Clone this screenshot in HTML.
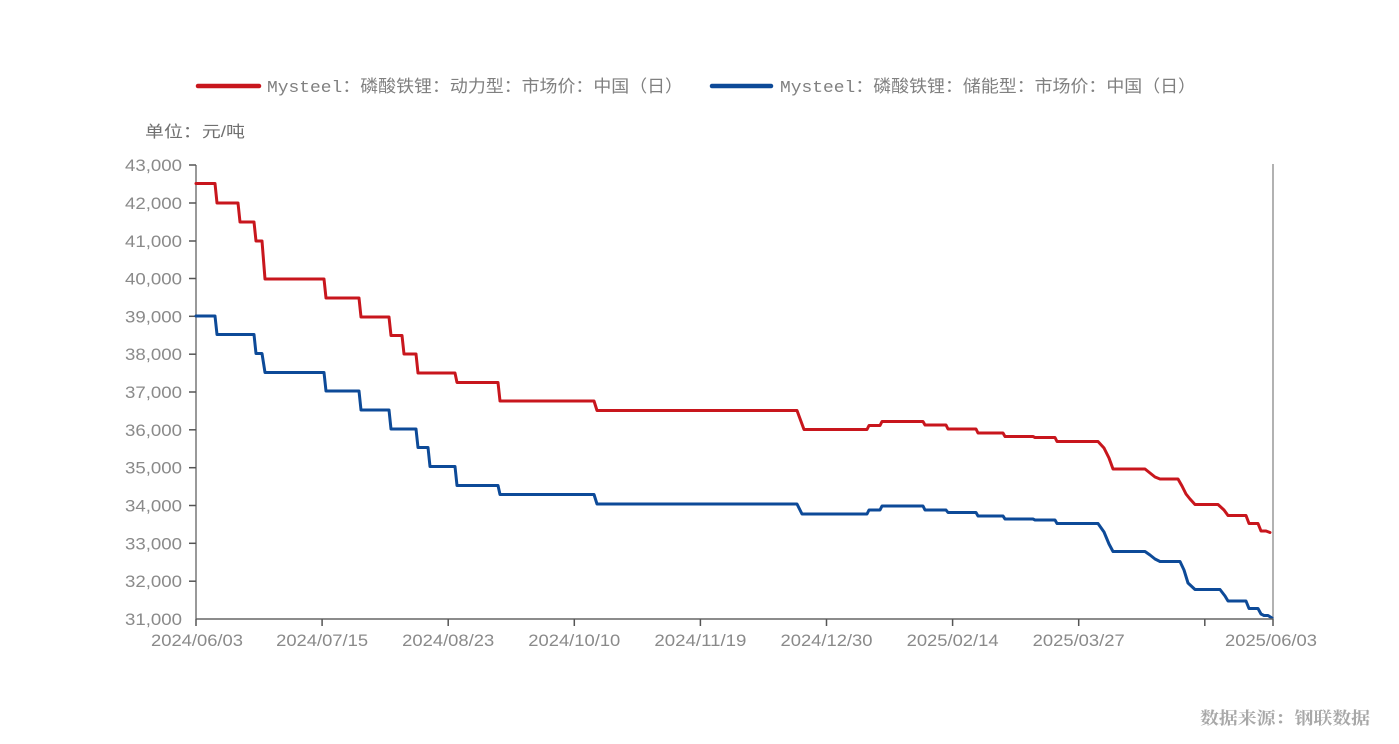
<!DOCTYPE html>
<html>
<head>
<meta charset="utf-8">
<style>
  html,body{margin:0;padding:0;background:#fff;}
  svg{display:block;}
  .lab{font-family:"Liberation Sans","Noto Sans CJK SC",sans-serif;font-size:16.5px;fill:#8a8a8a;}
  .leg{font-family:"Liberation Mono","Noto Sans CJK SC",monospace;font-size:17px;fill:#808080;}
  .unit{font-family:"Liberation Sans","Noto Sans CJK SC",sans-serif;font-size:16px;fill:#707070;}
  .src{font-family:"Liberation Serif","Noto Serif CJK SC",serif;font-size:17px;fill:#a8a8a8;font-weight:bold;}
</style>
</head>
<body>
<svg width="1399" height="744" viewBox="0 0 1399 744" xmlns="http://www.w3.org/2000/svg">
  <rect width="1399" height="744" fill="#fff"/>

  <!-- Legend -->
  <line x1="198" y1="86" x2="259" y2="86" stroke="#C8161D" stroke-width="4.5" stroke-linecap="round"/>
  <text class="leg" x="267" y="92" textLength="416" lengthAdjust="spacingAndGlyphs">Mysteel：磷酸铁锂：动力型：市场价：中国（日）</text>
  <line x1="712" y1="86" x2="771" y2="86" stroke="#0D4A98" stroke-width="4.5" stroke-linecap="round"/>
  <text class="leg" x="780" y="92" textLength="416" lengthAdjust="spacingAndGlyphs">Mysteel：磷酸铁锂：储能型：市场价：中国（日）</text>

  <!-- Unit -->
  <text class="unit" x="145" y="137" textLength="100" lengthAdjust="spacingAndGlyphs">单位：元/吨</text>

  <!-- Y axis -->
  <line x1="196" y1="165" x2="196" y2="619" stroke="#999" stroke-width="2"/>
  <line x1="1273" y1="164" x2="1273" y2="619" stroke="#999" stroke-width="1.5"/>
  <g stroke="#555" stroke-width="1.5">
    <line x1="189" y1="165" x2="196" y2="165"/>
    <line x1="189" y1="203" x2="196" y2="203"/>
    <line x1="189" y1="241" x2="196" y2="241"/>
    <line x1="189" y1="278.5" x2="196" y2="278.5"/>
    <line x1="189" y1="316.3" x2="196" y2="316.3"/>
    <line x1="189" y1="354.2" x2="196" y2="354.2"/>
    <line x1="189" y1="392" x2="196" y2="392"/>
    <line x1="189" y1="429.8" x2="196" y2="429.8"/>
    <line x1="189" y1="467.7" x2="196" y2="467.7"/>
    <line x1="189" y1="505.5" x2="196" y2="505.5"/>
    <line x1="189" y1="543.3" x2="196" y2="543.3"/>
    <line x1="189" y1="581.2" x2="196" y2="581.2"/>
  </g>
  <g class="lab" text-anchor="end">
    <text x="182" y="171" textLength="57" lengthAdjust="spacingAndGlyphs">43,000</text>
    <text x="182" y="209" textLength="57" lengthAdjust="spacingAndGlyphs">42,000</text>
    <text x="182" y="247" textLength="57" lengthAdjust="spacingAndGlyphs">41,000</text>
    <text x="182" y="284.5" textLength="57" lengthAdjust="spacingAndGlyphs">40,000</text>
    <text x="182" y="322.3" textLength="57" lengthAdjust="spacingAndGlyphs">39,000</text>
    <text x="182" y="360.2" textLength="57" lengthAdjust="spacingAndGlyphs">38,000</text>
    <text x="182" y="398" textLength="57" lengthAdjust="spacingAndGlyphs">37,000</text>
    <text x="182" y="435.8" textLength="57" lengthAdjust="spacingAndGlyphs">36,000</text>
    <text x="182" y="473.7" textLength="57" lengthAdjust="spacingAndGlyphs">35,000</text>
    <text x="182" y="511.5" textLength="57" lengthAdjust="spacingAndGlyphs">34,000</text>
    <text x="182" y="549.3" textLength="57" lengthAdjust="spacingAndGlyphs">33,000</text>
    <text x="182" y="587.2" textLength="57" lengthAdjust="spacingAndGlyphs">32,000</text>
    <text x="182" y="625" textLength="57" lengthAdjust="spacingAndGlyphs">31,000</text>
  </g>

  <!-- Series -->
  <path fill="none" stroke="#C8161D" stroke-width="3" stroke-linejoin="round" stroke-linecap="round"
    d="M196,183.5 H215 L217,203 H238 L240,222 H254 L256,241 H262 L265,279 H324 L326,298 H359 L361,317 H389 L391,335.5 H402 L404,354 H416 L418,373 H455 L457,382.5 H498 L500,401 H594 L597,410.5 H797 L804,429.5 H867 L869,425.5 H880 L882,421.5 H923 L925,425 H946 L948,429 H976 L978,433 H1003 L1005,436.5 H1033 L1035,437.5 H1055 L1057,441.5 H1098 L1104,448 L1109,458 L1113,469 H1145 L1150,473 L1155,477 L1160,479 H1178 L1182,486 L1186,494 L1190,499 L1195,504.5 H1218 L1224,510 L1228,515.5 H1246 L1249,523.5 H1258 L1261,531 H1266 L1270,532.5"/>
  <path fill="none" stroke="#0D4A98" stroke-width="3" stroke-linejoin="round" stroke-linecap="round"
    d="M196,316 H215 L217,334.5 H254 L256,353.5 H262 L265,372.5 H324 L326,391 H359 L361,410 H389 L391,429 H416 L418,447.5 H428 L430,466.5 H455 L457,485.5 H498 L500,494.5 H594 L597,504 H797 L802,514 H867 L869,510 H880 L882,506 H923 L925,510 H946 L948,512.5 H976 L978,516 H1003 L1005,519 H1033 L1035,520 H1055 L1057,523.5 H1098 L1104,532 L1109,544 L1113,551.5 H1145 L1150,555 L1155,559 L1160,561.5 H1180 L1184,570 L1188,583 L1195,589.5 H1220 L1225,596 L1228,601 H1246 L1249,608.5 H1258 L1261,614 L1264,615.5 H1268 L1272,618"/>

  <!-- X axis -->
  <line x1="196" y1="619" x2="1273" y2="619" stroke="#666" stroke-width="1.5"/>
  <g stroke="#555" stroke-width="1.5">
    <line x1="196" y1="619" x2="196" y2="626"/>
    <line x1="322.1" y1="619" x2="322.1" y2="626"/>
    <line x1="448.2" y1="619" x2="448.2" y2="626"/>
    <line x1="574.3" y1="619" x2="574.3" y2="626"/>
    <line x1="700.4" y1="619" x2="700.4" y2="626"/>
    <line x1="826.5" y1="619" x2="826.5" y2="626"/>
    <line x1="952.6" y1="619" x2="952.6" y2="626"/>
    <line x1="1078.7" y1="619" x2="1078.7" y2="626"/>
    <line x1="1204.8" y1="619" x2="1204.8" y2="626"/>
    <line x1="1273" y1="619" x2="1273" y2="626"/>
  </g>
  <g class="lab" text-anchor="middle">
    <text x="197" y="646" textLength="92" lengthAdjust="spacingAndGlyphs">2024/06/03</text>
    <text x="322.1" y="646" textLength="92" lengthAdjust="spacingAndGlyphs">2024/07/15</text>
    <text x="448.2" y="646" textLength="92" lengthAdjust="spacingAndGlyphs">2024/08/23</text>
    <text x="574.3" y="646" textLength="92" lengthAdjust="spacingAndGlyphs">2024/10/10</text>
    <text x="700.4" y="646" textLength="92" lengthAdjust="spacingAndGlyphs">2024/11/19</text>
    <text x="826.5" y="646" textLength="92" lengthAdjust="spacingAndGlyphs">2024/12/30</text>
    <text x="952.6" y="646" textLength="92" lengthAdjust="spacingAndGlyphs">2025/02/14</text>
    <text x="1078.7" y="646" textLength="92" lengthAdjust="spacingAndGlyphs">2025/03/27</text>
    <text x="1271" y="646" textLength="92" lengthAdjust="spacingAndGlyphs">2025/06/03</text>
  </g>

  <!-- Source -->
  <text class="src" x="1200" y="724" textLength="170" lengthAdjust="spacingAndGlyphs">数据来源：钢联数据</text>
</svg>
</body>
</html>
